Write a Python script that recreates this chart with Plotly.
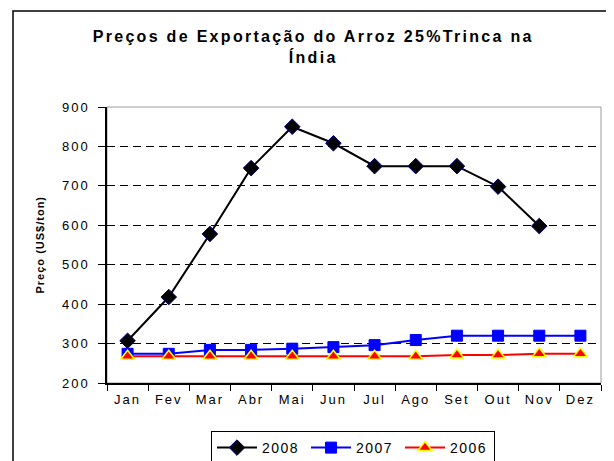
import plotly.graph_objects as go

months = ["Jan", "Fev", "Mar", "Abr", "Mai", "Jun", "Jul", "Ago", "Set", "Out", "Nov", "Dez"]
p2008 = [307, 418, 578, 745, 850, 808, 750, 750, 750, 698, 598, None]
p2007 = [274, 274, 284, 284, 287, 291, 296, 309, 320, 320, 320, 320]
p2006 = [268, 268, 268, 268, 268, 268, 268, 268, 271, 271, 274, 274]
yticks = [200, 300, 400, 500, 600, 700, 800, 900]

fig = go.Figure()
fig.add_trace(go.Scatter(x=months, y=p2008, name="2008", mode="lines+markers",
                         line=dict(color="black", width=2),
                         marker=dict(symbol="diamond", size=12, color="black",
                                     line=dict(color="#000080", width=1))))
fig.add_trace(go.Scatter(x=months, y=p2007, name="2007", mode="lines+markers",
                         line=dict(color="#0000FF", width=2),
                         marker=dict(symbol="square", size=11, color="#0000FF",
                                     line=dict(color="#0000FF", width=1))))
fig.add_trace(go.Scatter(x=months, y=p2006, name="2006", mode="lines+markers",
                         line=dict(color="#FF0000", width=2),
                         marker=dict(symbol="triangle-up", size=12, color="#FF0000",
                                     line=dict(color="#FFFF00", width=1.5))))

# page body has an 8px margin, so work in reference coords minus 8
OFF = 8
W, H = 614 - OFF, 461 - OFF
L, R, T, B = 107 - OFF, 13, 107 - OFF, 78
pw, ph = W - L - R, H - T - B

def px(x):
    return (x - OFF - L) / pw

def py(y):
    return (H - B - (y - OFF)) / ph

FONT = "Arial, Liberation Sans, sans-serif"

fig.update_layout(
    width=W, height=H,
    margin=dict(l=L, r=R, t=T, b=B, autoexpand=False),
    paper_bgcolor="white", plot_bgcolor="white",
    font=dict(family=FONT, size=13, color="black"),
    showlegend=True,
    legend=dict(orientation="h", x=px(211), xanchor="left", y=py(431), yanchor="top",
                bordercolor="black", borderwidth=1, bgcolor="white",
                font=dict(size=14), itemwidth=40, entrywidth=39, tracegroupgap=0),
    shapes=[
        dict(type="rect", xref="paper", yref="paper", x0=px(13), x1=px(613), y0=-0.4, y1=py(11),
             line=dict(color="black", width=1.5), layer="below"),
        dict(type="rect", xref="paper", yref="paper", x0=0, x1=1, y0=0, y1=1,
             line=dict(color="#9a9a9a", width=1), layer="below"),
    ],
    annotations=[
        dict(text="<b>Preços de Exportação do Arroz 25%Trinca na<br>Índia</b>",
             xref="paper", yref="paper", x=px(313), y=py(46.5), xanchor="center", yanchor="middle",
             showarrow=False, font=dict(size=16, family=FONT)),
        dict(text="<b>Preço (US$/ton)</b>", textangle=-90,
             xref="paper", yref="paper", x=px(40), y=0.5, xanchor="center", yanchor="middle",
             showarrow=False, font=dict(size=11, family=FONT)),
    ],
)
fig.update_xaxes(type="category", categoryorder="array", categoryarray=months,
                 tickson="boundaries", ticks="outside", ticklen=6, tickcolor="black",
                 showline=True, linecolor="black", linewidth=1.5, showgrid=False,
                 tickfont=dict(size=13), ticklabelstandoff=4,
                 range=[-0.5, 11.5], fixedrange=True)
fig.update_yaxes(range=[200, 900], tickvals=yticks, ticks="outside", ticklen=7, tickcolor="black",
                 showline=True, linecolor="black", linewidth=1.5,
                 showgrid=True, gridcolor="black", griddash="8px,5px", gridwidth=1,
                 zeroline=False, tickfont=dict(size=13), ticklabelstandoff=6)

post = """
var gd = document.getElementById('{plot_id}');
function sp(sel, v){ gd.querySelectorAll(sel).forEach(function(t){ t.style.letterSpacing = v; }); }
sp('g.xtick text', '2px');
sp('g.ytick text', '2px');
sp('g.legend text.legendtext', '1.5px');
var ann = gd.querySelectorAll('g.annotation text');
if (ann.length > 0) { ann[0].style.letterSpacing = '2.3px'; }
if (ann.length > 1) { ann[1].style.letterSpacing = '1px'; }
"""

fig.write_html("out.html", post_script=post)
